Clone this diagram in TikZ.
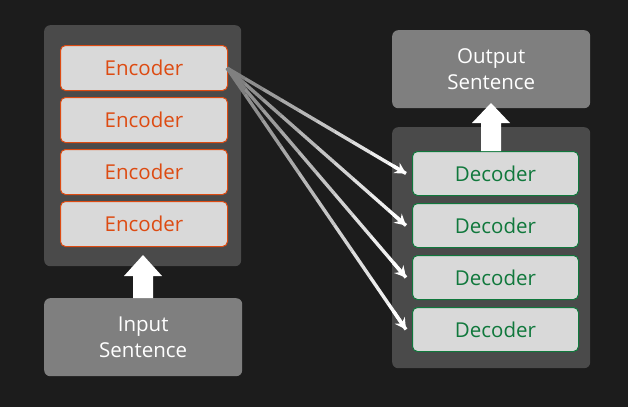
\documentclass[tikz,border=0pt]{standalone}
\usepackage{fontspec}
\setmainfont{Open Sans}
\usetikzlibrary{arrows.meta,calc}
\definecolor{bg}{HTML}{1C1C1C}
\definecolor{panel}{HTML}{4A4A4A}
\definecolor{graybox}{HTML}{7F7F7F}
\definecolor{cell}{HTML}{D9D9D9}
\definecolor{enc}{HTML}{DD4B12}
\definecolor{dec}{HTML}{10783C}
\tikzset{
  panelbox/.style={fill=panel, rounded corners=6pt, draw=none},
  sentbox/.style={fill=graybox, rounded corners=6pt, draw=none, text=white, align=center, font=\fontsize{20.5}{26}\selectfont, anchor=north west, inner sep=0pt},
  encbox/.style={fill=cell, draw=enc, line width=1pt, rounded corners=5pt, text=enc, font=\fontsize{20.5}{24}\selectfont, anchor=north west, inner sep=0pt, minimum width=167pt, minimum height=45pt},
  decbox/.style={fill=cell, draw=dec, line width=1pt, rounded corners=5pt, text=dec, font=\fontsize{20.5}{24}\selectfont, anchor=north west, inner sep=0pt, minimum width=166pt, minimum height=44pt},
  bigarrow/.style={fill=white, draw=none},
}
\begin{document}
\begin{tikzpicture}[x=1pt,y=-1pt]
\fill[bg] (0,0) rectangle (628,407);
\useasboundingbox (0,0) rectangle (628,407);
% panels
\node[panelbox, anchor=north west, minimum width=197pt, minimum height=241pt, inner sep=0pt] (encpanel) at (44,25) {};
\node[panelbox, anchor=north west, minimum width=198pt, minimum height=241pt, inner sep=0pt] (decpanel) at (392,127) {};
% sentence boxes
\node[sentbox, minimum width=198pt, minimum height=78pt] (input) at (44,298) {Input\\Sentence};
\node[sentbox, minimum width=198pt, minimum height=78pt] (output) at (392,30) {Output\\Sentence};
% encoders
\node[encbox] (e1) at (60,45) {Encoder};
\node[encbox] (e2) at (60,97) {Encoder};
\node[encbox] (e3) at (60,149) {Encoder};
\node[encbox] (e4) at (60,201) {Encoder};
% decoders
\node[decbox] (d1) at (412,151) {Decoder};
\node[decbox] (d2) at (412,203) {Decoder};
\node[decbox] (d3) at (412,255) {Decoder};
\node[decbox] (d4) at (412,307) {Decoder};
% big arrows
\fill[bigarrow] (input.north -| 133,0) -- (133,276) -- (124,276) -- (143,255) -- (162,276) -- (153,276) -- (input.north -| 153,0) -- cycle;
\fill[bigarrow] (d1.north -| 481,0) -- (481,123) -- (472,123) -- (491,103) -- (510,123) -- (501,123) -- (d1.north -| 501,0) -- cycle;
% connectors with gradient
\coordinate (src) at ($(e1.east)+(-1,0)$);
\foreach \d in {d1,d2,d3,d4}{
  \path (src) coordinate (s0) (\d.west) ++(-6,0) coordinate (t0);
  \foreach \i [evaluate=\i as \a using {\i/10}, evaluate=\i as \b using {(\i+1)/10}, evaluate=\i as \c using {30+7.5*\i}] in {0,...,9}{
    \draw[line width=3.4pt, white!\c!panel, line cap=butt] ($(s0)!\a!(t0)$) -- ($(s0)!\b!(t0)$);
  }
  \draw[line width=3.4pt, white, -{Stealth[length=11pt,width=12pt]}] ($(s0)!0.93!(t0)$) -- (t0);
}
\end{tikzpicture}
\end{document}
